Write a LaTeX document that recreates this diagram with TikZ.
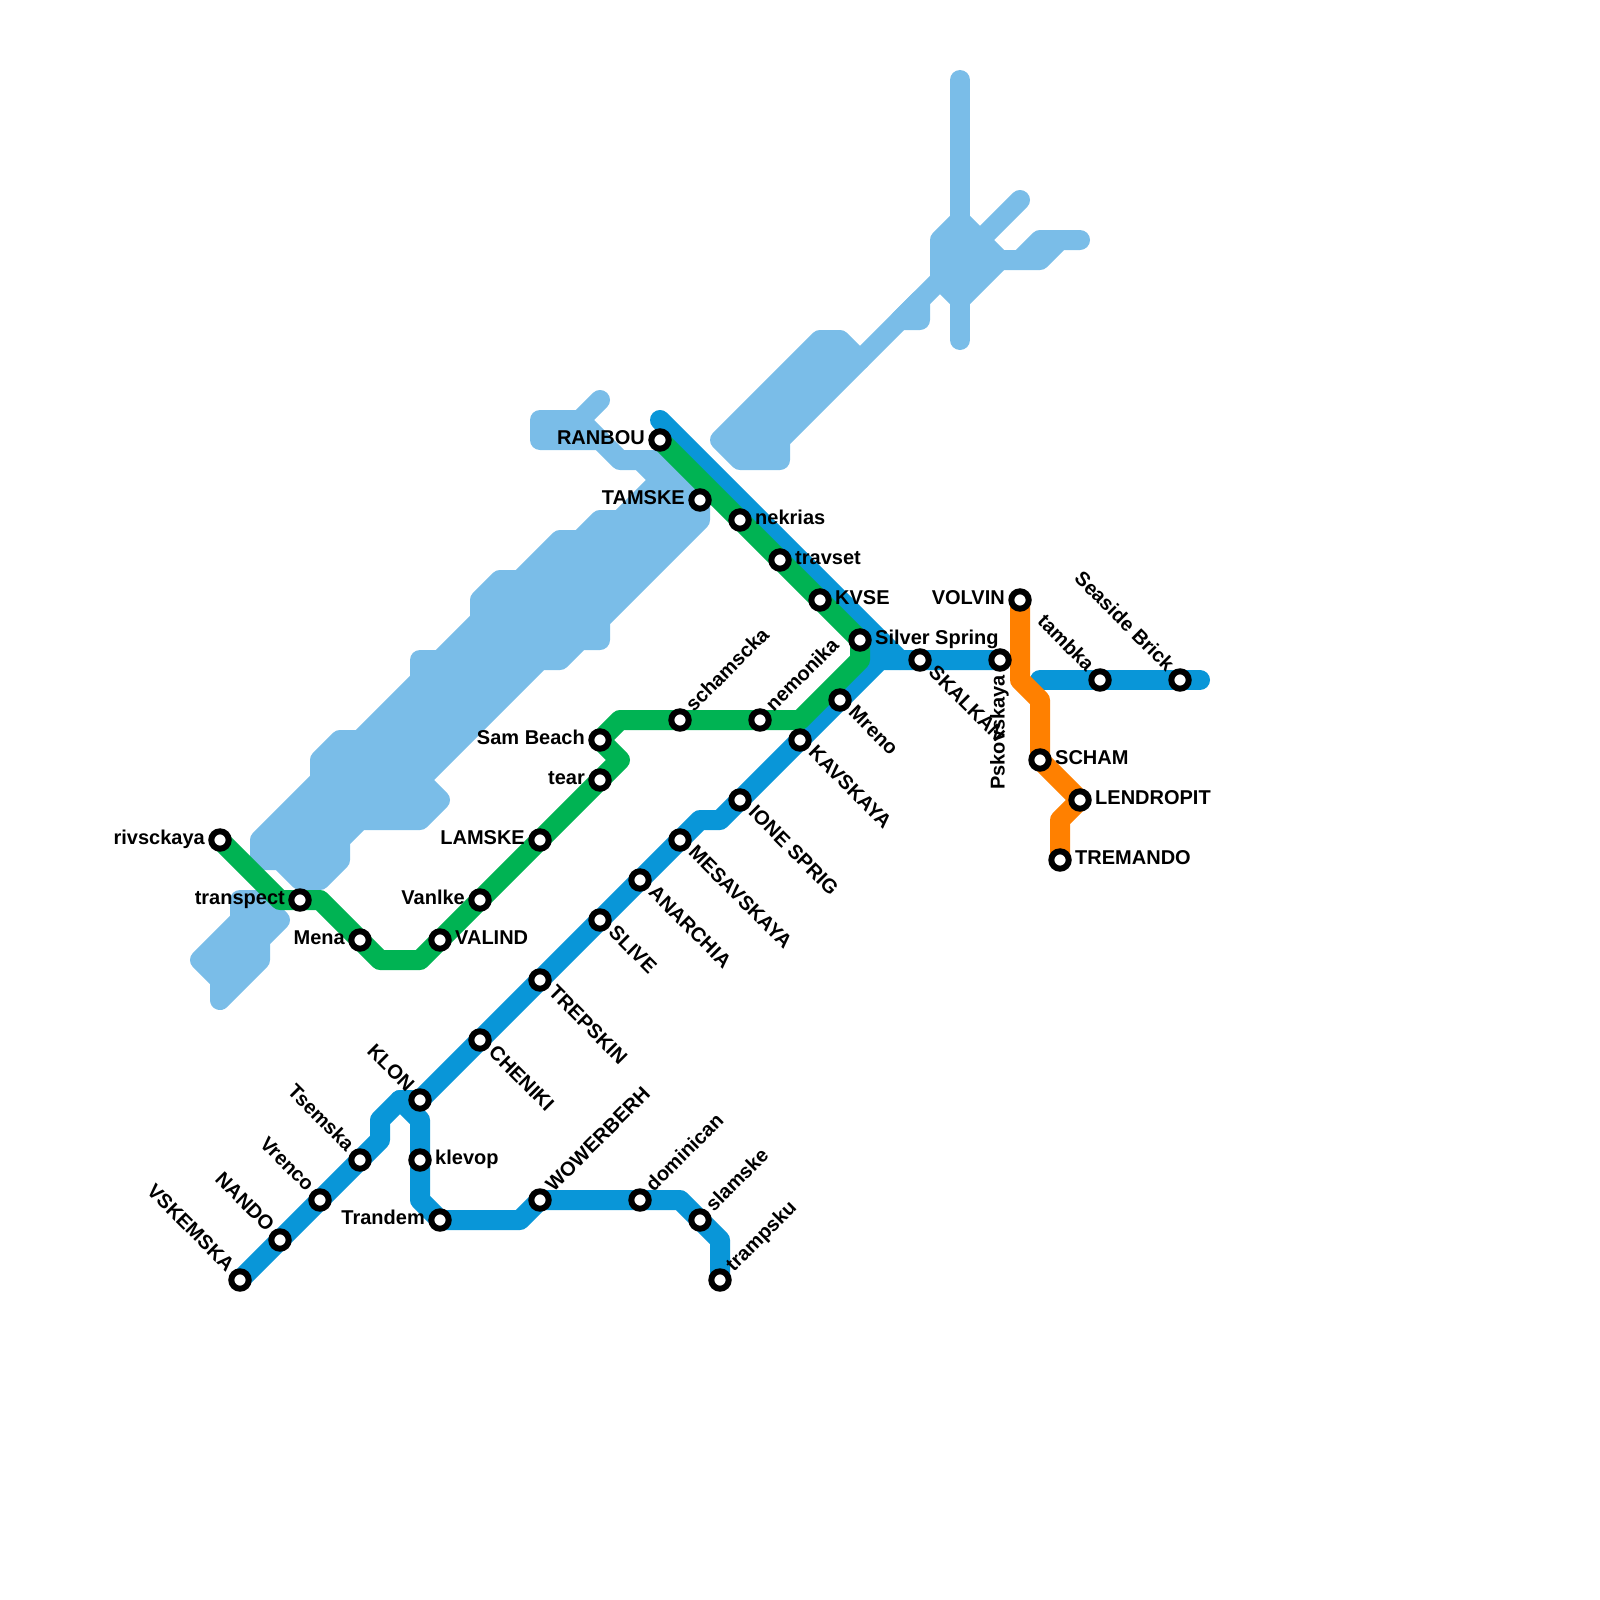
\documentclass[tikz,border=0pt]{standalone}
\usepackage{fontspec}
\setmainfont{Liberation Sans}
\usetikzlibrary{backgrounds}
\definecolor{lineblue}{HTML}{0996D8}
\definecolor{linegreen}{HTML}{00B353}
\definecolor{lineorange}{HTML}{FF8000}
\definecolor{lakeblue}{HTML}{7ABDE8}
\tikzset{
  route/.style={line width=20pt,line join=round,line cap=round},
  lake/.style={route,draw=lakeblue,fill=lakeblue},
  stn/.style={circle,draw=black,fill=white,line width=6pt,minimum size=17.4pt,inner sep=0pt,outer sep=0pt},
  lbl/.style={font=\fontsize{20}{21}\selectfont\bfseries,inner sep=0pt,text=black},
  lE/.style={lbl,anchor=base west,xshift=15pt,yshift=-4.5pt},
  lW/.style={lbl,anchor=base east,xshift=-15pt,yshift=-4.5pt},
  lSE/.style={lbl,anchor=base west,rotate=-45,xshift=15pt,yshift=-4.5pt},
  lNE/.style={lbl,anchor=base west,rotate=45,xshift=15pt,yshift=-4.5pt},
  lNW/.style={lbl,anchor=base east,rotate=-45,xshift=-15pt,yshift=-4.5pt},
  lS/.style={lbl,anchor=base east,rotate=90,xshift=-15pt,yshift=-4.5pt},
}
\newcommand{\stat}[5]{%
  \node[stn] (#1) at (#2,#3) {};
  \node[#4] (#1-l) at (#2,#3) {#5};
}
\begin{document}
\begin{tikzpicture}[x=1pt,y=-1pt]
\useasboundingbox (0,0) rectangle (1600,1600);
% stations
\stat{rivsckaya}{220}{840}{lW}{rivsckaya}
\stat{transpect}{300}{900}{lW}{transpect}
\stat{mena}{360}{940}{lW}{Mena}
\stat{valind}{440}{940}{lE}{VALIND}
\stat{vanlke}{480}{900}{lW}{Vanlke}
\stat{lamske}{540}{840}{lW}{LAMSKE}
\stat{tear}{600}{780}{lW}{tear}
\stat{sambeach}{600}{740}{lW}{Sam Beach}
\stat{schamscka}{680}{720}{lNE}{schamscka}
\stat{nemonika}{760}{720}{lNE}{nemonika}
\stat{kavskaya}{800}{740}{lSE}{KAVSKAYA}
\stat{mreno}{840}{700}{lSE}{Mreno}
\stat{silver}{860}{640}{lE}{Silver Spring}
\stat{kvse}{820}{600}{lE}{KVSE}
\stat{travset}{780}{560}{lE}{travset}
\stat{nekrias}{740}{520}{lE}{nekrias}
\stat{tamske}{700}{500}{lW}{TAMSKE}
\stat{ranbou}{660}{440}{lW}{RANBOU}
\stat{skalkan}{920}{660}{lSE}{SKALKAN}
\stat{pskov}{1000}{660}{lS}{Pskovskaya}
\stat{volvin}{1020}{600}{lW}{VOLVIN}
\stat{tambka}{1100}{680}{lNW}{tambka}
\stat{seaside}{1180}{680}{lNW}{Seaside Brick}
\stat{scham}{1040}{760}{lE}{SCHAM}
\stat{lendropit}{1080}{800}{lE}{LENDROPIT}
\stat{tremando}{1060}{860}{lE}{TREMANDO}
\stat{ione}{740}{800}{lSE}{IONE SPRIG}
\stat{mesav}{680}{840}{lSE}{MESAVSKAYA}
\stat{anarchia}{640}{880}{lSE}{ANARCHIA}
\stat{slive}{600}{920}{lSE}{SLIVE}
\stat{trepskin}{540}{980}{lSE}{TREPSKIN}
\stat{cheniki}{480}{1040}{lSE}{CHENIKI}
\stat{klon}{420}{1100}{lNW}{KLON}
\stat{klevop}{420}{1160}{lE}{klevop}
\stat{trandem}{440}{1220}{lW}{Trandem}
\stat{wower}{540}{1200}{lNE}{WOWERBERH}
\stat{dominican}{640}{1200}{lNE}{dominican}
\stat{slamske}{700}{1220}{lNE}{slamske}
\stat{trampsku}{720}{1280}{lNE}{trampsku}
\stat{tsemska}{360}{1160}{lNW}{Tsemska}
\stat{vrenco}{320}{1200}{lNW}{Vrenco}
\stat{nando}{280}{1240}{lNW}{NANDO}
\stat{vskemska}{240}{1280}{lNW}{VSKEMSKA}
% bends and free ends
\coordinate (g1) at (280,900);
\coordinate (g2) at (320,900);
\coordinate (g3) at (380,960);
\coordinate (g4) at (420,960);
\coordinate (g5) at (620,760);
\coordinate (g6) at (620,720);
\coordinate (g7) at (800,720);
\coordinate (g8) at (860,660);
\coordinate (b0) at (660,420);
\coordinate (b1) at (900,660);
\coordinate (b2) at (880,660);
\coordinate (b3) at (720,820);
\coordinate (b4) at (700,820);
\coordinate (b5) at (400,1100);
\coordinate (b6) at (380,1120);
\coordinate (b7) at (380,1140);
\coordinate (b8) at (420,1120);
\coordinate (b9) at (420,1200);
\coordinate (b10) at (520,1220);
\coordinate (b11) at (680,1200);
\coordinate (b12) at (720,1240);
\coordinate (b13) at (1040,680);
\coordinate (b14) at (1200,680);
\coordinate (o1) at (1020,680);
\coordinate (o2) at (1040,700);
\coordinate (o3) at (1060,820);
\begin{pgfonlayer}{background}
% light blue mass
\filldraw[lake] (640,460)--(660,460)--(700,500)--(700,520)--(600,620)--(600,640)--(580,640)--(560,660)--(540,660)--(420,780)--(440,800)--(420,820)--(360,820)--(340,840)--(340,860)--(320,880)--(300,880)--(280,860)--(260,860)--(260,840)--(320,780)--(320,760)--(340,740)--(360,740)--(420,680)--(420,660)--(440,660)--(480,620)--(480,600)--(500,580)--(520,580)--(560,540)--(580,540)--(600,520)--(620,520)--(660,480)--cycle;
\filldraw[lake] (240,900)--(260,900)--(280,920)--(260,940)--(260,960)--(220,1000)--(220,980)--(200,960)--(240,920)--cycle;
\filldraw[lake] (540,420)--(580,420)--(600,440)--(540,440)--cycle;
\draw[lake,fill=none] (600,400)--(580,420);
\draw[lake,fill=none] (600,440)--(620,460)--(660,460);
\filldraw[lake] (720,440)--(820,340)--(840,340)--(860,360)--(780,440)--(780,460)--(740,460)--cycle;
\draw[lake,fill=none] (860,360)--(1020,200);
\filldraw[lake] (900,320)--(920,320)--(920,300)--cycle;
\filldraw[lake] (940,280)--(940,240)--(960,220)--(1000,260)--(960,300)--cycle;
\draw[lake,fill=none] (960,80)--(960,340);
\filldraw[lake] (1000,260)--(1020,260)--(1040,240)--(1080,240)--(1060,240)--(1040,260)--cycle;
% blue lines
\draw[route,lineblue] (b0)--(b1)--(skalkan.center)--(pskov.center);
\draw[route,lineblue] (vskemska.center)--(nando.center)--(vrenco.center)--(tsemska.center)--(b7)--(b6)--(b5)--(klon.center)--(cheniki.center)--(trepskin.center)--(slive.center)--(anarchia.center)--(mesav.center)--(b4)--(b3)--(ione.center)--(kavskaya.center)--(mreno.center)--(b2)--(b1);
\draw[route,lineblue] (b2)--(silver.center);
\draw[route,lineblue] (b5)--(b8)--(klevop.center)--(b9)--(trandem.center)--(b10)--(wower.center)--(dominican.center)--(b11)--(slamske.center)--(b12)--(trampsku.center);
\draw[route,lineblue] (b13)--(tambka.center)--(seaside.center)--(b14);
% green line
\draw[route,linegreen] (rivsckaya.center)--(g1)--(transpect.center)--(g2)--(mena.center)--(g3)--(g4)--(valind.center)--(vanlke.center)--(lamske.center)--(tear.center)--(g5)--(sambeach.center)--(g6)--(schamscka.center)--(nemonika.center)--(g7)--(g8)--(silver.center)--(kvse.center)--(travset.center)--(nekrias.center)--(ranbou.center);
% orange line
\draw[route,lineorange] (volvin.center)--(o1)--(o2)--(scham.center)--(lendropit.center)--(o3)--(tremando.center);
\end{pgfonlayer}
\end{tikzpicture}
\end{document}
